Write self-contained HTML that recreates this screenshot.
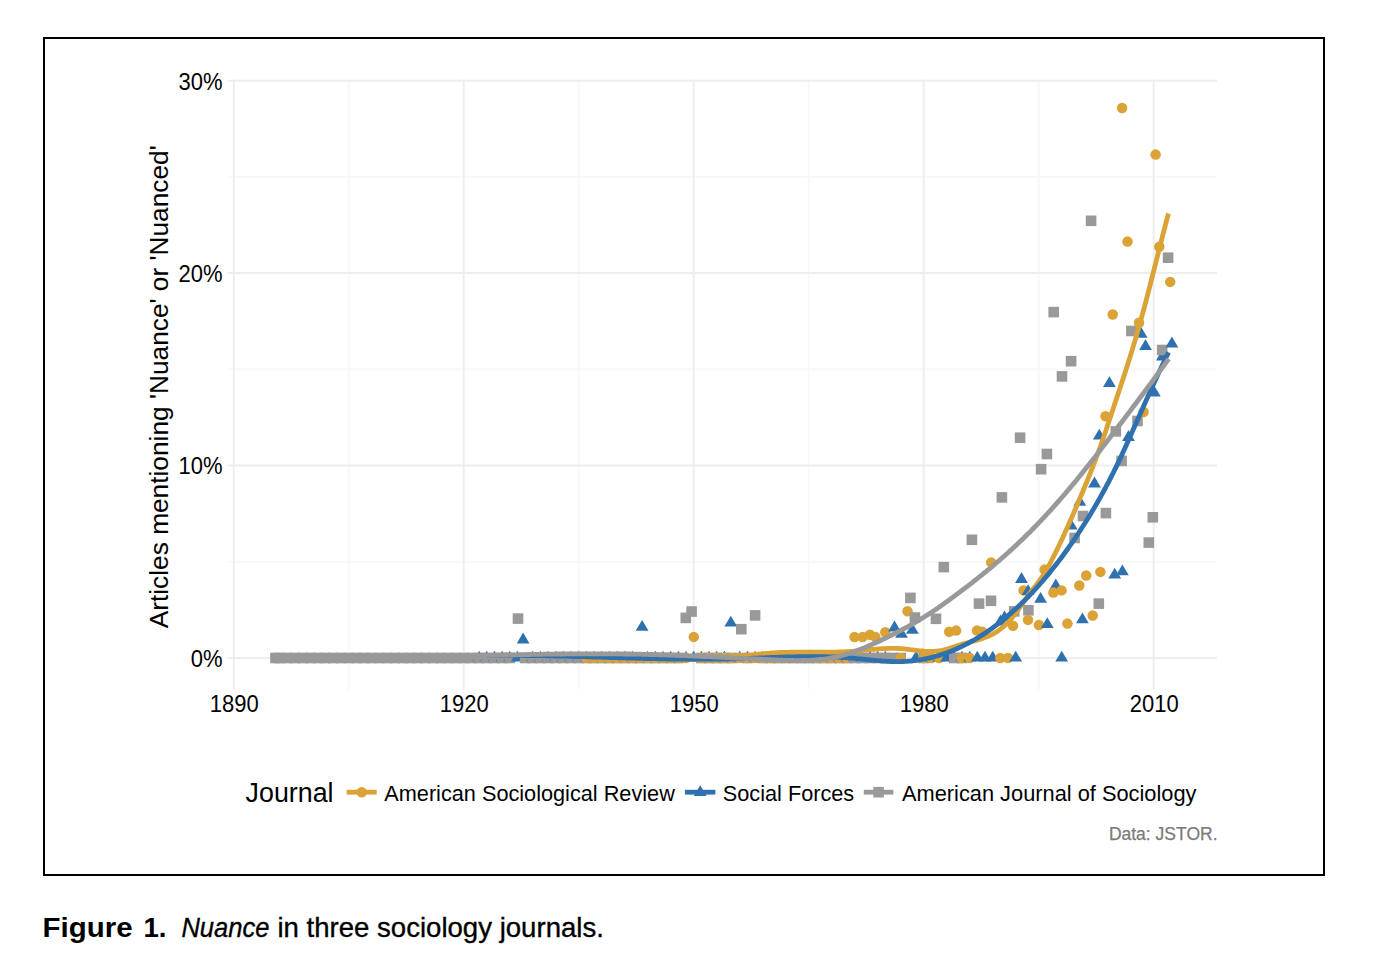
<!DOCTYPE html>
<html><head><meta charset="utf-8"><title>Figure 1. Nuance in three sociology journals</title>
<style>
html,body{margin:0;padding:0;background:#fff;}
body{width:1378px;height:974px;overflow:hidden;position:relative;font-family:"Liberation Sans",sans-serif;}
svg{position:absolute;left:0;top:0;}
.ma{stroke:#eeeeee;stroke-width:2;}
.mi{stroke:#f8f8f8;stroke-width:2;}

</style></head><body>
<svg width="1378" height="974" viewBox="0 0 1378 974" font-family="Liberation Sans, sans-serif">
<rect x="44" y="38" width="1280" height="837" fill="#fff" stroke="#000" stroke-width="2"/>
<g><line x1="348.74" y1="79.5" x2="348.74" y2="689.7" class="mi"/><line x1="578.71" y1="79.5" x2="578.71" y2="689.7" class="mi"/><line x1="808.68" y1="79.5" x2="808.68" y2="689.7" class="mi"/><line x1="1038.66" y1="79.5" x2="1038.66" y2="689.7" class="mi"/><line x1="227.5" y1="561.77" x2="1217.0" y2="561.77" class="mi"/><line x1="227.5" y1="369.32" x2="1217.0" y2="369.32" class="mi"/><line x1="227.5" y1="176.88" x2="1217.0" y2="176.88" class="mi"/><line x1="233.75" y1="79.5" x2="233.75" y2="689.7" class="ma"/><line x1="463.72" y1="79.5" x2="463.72" y2="689.7" class="ma"/><line x1="693.70" y1="79.5" x2="693.70" y2="689.7" class="ma"/><line x1="923.67" y1="79.5" x2="923.67" y2="689.7" class="ma"/><line x1="1153.65" y1="79.5" x2="1153.65" y2="689.7" class="ma"/><line x1="227.5" y1="658.00" x2="1217.0" y2="658.00" class="ma"/><line x1="227.5" y1="465.55" x2="1217.0" y2="465.55" class="ma"/><line x1="227.5" y1="273.10" x2="1217.0" y2="273.10" class="ma"/><line x1="227.5" y1="80.65" x2="1217.0" y2="80.65" class="ma"/></g>
<g fill="#999999"><rect x="270.2" y="652.7" width="10.6" height="10.6"/><rect x="274.4" y="652.7" width="10.6" height="10.6"/><rect x="282.1" y="652.7" width="10.6" height="10.6"/><rect x="289.8" y="652.7" width="10.6" height="10.6"/><rect x="297.4" y="652.7" width="10.6" height="10.6"/><rect x="305.1" y="652.7" width="10.6" height="10.6"/><rect x="312.8" y="652.7" width="10.6" height="10.6"/><rect x="320.4" y="652.7" width="10.6" height="10.6"/><rect x="328.1" y="652.7" width="10.6" height="10.6"/><rect x="335.8" y="652.7" width="10.6" height="10.6"/><rect x="343.4" y="652.7" width="10.6" height="10.6"/><rect x="351.1" y="652.7" width="10.6" height="10.6"/><rect x="358.8" y="652.7" width="10.6" height="10.6"/><rect x="366.4" y="652.7" width="10.6" height="10.6"/><rect x="374.1" y="652.7" width="10.6" height="10.6"/><rect x="381.8" y="652.7" width="10.6" height="10.6"/><rect x="389.4" y="652.7" width="10.6" height="10.6"/><rect x="397.1" y="652.7" width="10.6" height="10.6"/><rect x="404.8" y="652.7" width="10.6" height="10.6"/><rect x="412.4" y="652.7" width="10.6" height="10.6"/><rect x="420.1" y="652.7" width="10.6" height="10.6"/><rect x="427.8" y="652.7" width="10.6" height="10.6"/><rect x="435.4" y="652.7" width="10.6" height="10.6"/><rect x="443.1" y="652.7" width="10.6" height="10.6"/><rect x="450.8" y="652.7" width="10.6" height="10.6"/><rect x="458.4" y="652.7" width="10.6" height="10.6"/><rect x="466.1" y="652.7" width="10.6" height="10.6"/></g><g fill="#2F70AF"><path d="M479.1 650.8L485.5 661.6L472.7 661.6Z"/></g><g fill="#999999"><rect x="473.8" y="652.7" width="10.6" height="10.6"/></g><g fill="#2F70AF"><path d="M486.7 650.8L493.1 661.6L480.3 661.6Z"/></g><g fill="#999999"><rect x="481.4" y="652.7" width="10.6" height="10.6"/></g><g fill="#2F70AF"><path d="M494.4 650.8L500.8 661.6L488.0 661.6Z"/></g><g fill="#999999"><rect x="489.1" y="652.7" width="10.6" height="10.6"/></g><g fill="#2F70AF"><path d="M502.1 650.8L508.5 661.6L495.7 661.6Z"/></g><g fill="#999999"><rect x="496.8" y="652.7" width="10.6" height="10.6"/></g><g fill="#2F70AF"><path d="M509.7 650.8L516.1 661.6L503.3 661.6Z"/></g><g fill="#999999"><rect x="504.4" y="652.7" width="10.6" height="10.6"/></g><g fill="#2F70AF"><path d="M517.4 650.8L523.8 661.6L511.0 661.6Z"/></g><g fill="#999999"><rect x="512.7" y="613.3" width="10.6" height="10.6"/></g><g fill="#2F70AF"><path d="M523.1 632.6L529.5 643.4L516.7 643.4Z"/></g><g fill="#999999"><rect x="519.8" y="652.7" width="10.6" height="10.6"/></g><g fill="#2F70AF"><path d="M532.7 650.8L539.1 661.6L526.3 661.6Z"/></g><g fill="#999999"><rect x="527.4" y="652.7" width="10.6" height="10.6"/></g><g fill="#2F70AF"><path d="M540.4 650.8L546.8 661.6L534.0 661.6Z"/></g><g fill="#999999"><rect x="535.1" y="652.7" width="10.6" height="10.6"/></g><g fill="#2F70AF"><path d="M548.0 650.8L554.4 661.6L541.6 661.6Z"/></g><g fill="#999999"><rect x="542.7" y="652.7" width="10.6" height="10.6"/></g><g fill="#2F70AF"><path d="M555.7 650.8L562.1 661.6L549.3 661.6Z"/></g><g fill="#999999"><rect x="550.4" y="652.7" width="10.6" height="10.6"/></g><g fill="#2F70AF"><path d="M563.4 650.8L569.8 661.6L557.0 661.6Z"/></g><g fill="#999999"><rect x="558.1" y="652.7" width="10.6" height="10.6"/></g><g fill="#2F70AF"><path d="M571.0 650.8L577.4 661.6L564.6 661.6Z"/></g><g fill="#999999"><rect x="565.7" y="652.7" width="10.6" height="10.6"/></g><g fill="#2F70AF"><path d="M578.7 650.8L585.1 661.6L572.3 661.6Z"/></g><g fill="#999999"><rect x="573.4" y="652.7" width="10.6" height="10.6"/></g><g fill="#2F70AF"><path d="M586.4 650.8L592.8 661.6L580.0 661.6Z"/></g><g fill="#999999"><rect x="581.1" y="652.7" width="10.6" height="10.6"/></g><g fill="#DBA236"><circle cx="586.4" cy="658.0" r="5.25"/></g><g fill="#2F70AF"><path d="M594.0 650.8L600.4 661.6L587.6 661.6Z"/></g><g fill="#999999"><rect x="588.7" y="652.7" width="10.6" height="10.6"/></g><g fill="#DBA236"><circle cx="594.0" cy="658.0" r="5.25"/></g><g fill="#2F70AF"><path d="M601.7 650.8L608.1 661.6L595.3 661.6Z"/></g><g fill="#999999"><rect x="596.4" y="652.7" width="10.6" height="10.6"/></g><g fill="#DBA236"><circle cx="601.7" cy="658.0" r="5.25"/></g><g fill="#2F70AF"><path d="M609.4 650.8L615.8 661.6L603.0 661.6Z"/></g><g fill="#999999"><rect x="604.1" y="652.7" width="10.6" height="10.6"/></g><g fill="#DBA236"><circle cx="609.4" cy="658.0" r="5.25"/></g><g fill="#2F70AF"><path d="M617.0 650.8L623.4 661.6L610.6 661.6Z"/></g><g fill="#999999"><rect x="611.7" y="652.7" width="10.6" height="10.6"/></g><g fill="#DBA236"><circle cx="617.0" cy="658.0" r="5.25"/></g><g fill="#2F70AF"><path d="M624.7 650.8L631.1 661.6L618.3 661.6Z"/></g><g fill="#999999"><rect x="619.4" y="652.7" width="10.6" height="10.6"/></g><g fill="#DBA236"><circle cx="624.7" cy="658.0" r="5.25"/></g><g fill="#2F70AF"><path d="M632.4 650.8L638.8 661.6L626.0 661.6Z"/></g><g fill="#999999"><rect x="627.1" y="652.7" width="10.6" height="10.6"/></g><g fill="#DBA236"><circle cx="632.4" cy="658.0" r="5.25"/></g><g fill="#2F70AF"><path d="M642.1 620.0L648.5 630.8L635.7 630.8Z"/></g><g fill="#999999"><rect x="634.7" y="652.7" width="10.6" height="10.6"/></g><g fill="#DBA236"><circle cx="640.0" cy="658.0" r="5.25"/></g><g fill="#2F70AF"><path d="M647.7 650.8L654.1 661.6L641.3 661.6Z"/></g><g fill="#999999"><rect x="642.4" y="652.7" width="10.6" height="10.6"/></g><g fill="#DBA236"><circle cx="647.7" cy="658.0" r="5.25"/></g><g fill="#2F70AF"><path d="M655.4 650.8L661.8 661.6L649.0 661.6Z"/></g><g fill="#999999"><rect x="650.1" y="652.7" width="10.6" height="10.6"/></g><g fill="#DBA236"><circle cx="655.4" cy="658.0" r="5.25"/></g><g fill="#2F70AF"><path d="M663.0 650.8L669.4 661.6L656.6 661.6Z"/></g><g fill="#999999"><rect x="657.7" y="652.7" width="10.6" height="10.6"/></g><g fill="#DBA236"><circle cx="663.0" cy="658.0" r="5.25"/></g><g fill="#2F70AF"><path d="M670.7 650.8L677.1 661.6L664.3 661.6Z"/></g><g fill="#999999"><rect x="665.4" y="652.7" width="10.6" height="10.6"/></g><g fill="#DBA236"><circle cx="670.7" cy="658.0" r="5.25"/></g><g fill="#2F70AF"><path d="M678.4 650.8L684.8 661.6L672.0 661.6Z"/></g><g fill="#999999"><rect x="673.1" y="652.7" width="10.6" height="10.6"/></g><g fill="#DBA236"><circle cx="678.4" cy="658.0" r="5.25"/></g><g fill="#2F70AF"><path d="M686.0 650.8L692.4 661.6L679.6 661.6Z"/></g><g fill="#999999"><rect x="680.5" y="612.6" width="10.6" height="10.6"/></g><g fill="#DBA236"><circle cx="686.0" cy="658.0" r="5.25"/></g><g fill="#2F70AF"><path d="M693.7 650.8L700.1 661.6L687.3 661.6Z"/></g><g fill="#999999"><rect x="686.3" y="606.2" width="10.6" height="10.6"/></g><g fill="#DBA236"><circle cx="693.8" cy="636.9" r="5.25"/></g><g fill="#2F70AF"><path d="M701.4 650.8L707.8 661.6L695.0 661.6Z"/></g><g fill="#999999"><rect x="696.1" y="652.7" width="10.6" height="10.6"/></g><g fill="#DBA236"><circle cx="701.4" cy="658.0" r="5.25"/></g><g fill="#2F70AF"><path d="M709.0 650.8L715.4 661.6L702.6 661.6Z"/></g><g fill="#999999"><rect x="703.7" y="652.7" width="10.6" height="10.6"/></g><g fill="#DBA236"><circle cx="709.0" cy="658.0" r="5.25"/></g><g fill="#2F70AF"><path d="M716.7 650.8L723.1 661.6L710.3 661.6Z"/></g><g fill="#999999"><rect x="711.4" y="652.7" width="10.6" height="10.6"/></g><g fill="#DBA236"><circle cx="716.7" cy="658.0" r="5.25"/></g><g fill="#2F70AF"><path d="M724.4 650.8L730.8 661.6L718.0 661.6Z"/></g><g fill="#999999"><rect x="719.1" y="652.7" width="10.6" height="10.6"/></g><g fill="#DBA236"><circle cx="724.4" cy="658.0" r="5.25"/></g><g fill="#2F70AF"><path d="M730.8 615.8L737.2 626.6L724.4 626.6Z"/></g><g fill="#999999"><rect x="726.7" y="652.7" width="10.6" height="10.6"/></g><g fill="#DBA236"><circle cx="732.0" cy="658.0" r="5.25"/></g><g fill="#2F70AF"><path d="M739.7 650.8L746.1 661.6L733.3 661.6Z"/></g><g fill="#999999"><rect x="736.0" y="623.9" width="10.6" height="10.6"/></g><g fill="#DBA236"><circle cx="739.7" cy="658.0" r="5.25"/></g><g fill="#2F70AF"><path d="M747.4 650.8L753.8 661.6L741.0 661.6Z"/></g><g fill="#999999"><rect x="742.1" y="652.7" width="10.6" height="10.6"/></g><g fill="#DBA236"><circle cx="747.4" cy="658.0" r="5.25"/></g><g fill="#2F70AF"><path d="M755.0 650.8L761.4 661.6L748.6 661.6Z"/></g><g fill="#999999"><rect x="749.8" y="610.1" width="10.6" height="10.6"/></g><g fill="#DBA236"><circle cx="755.0" cy="658.0" r="5.25"/></g><g fill="#2F70AF"><path d="M762.7 650.8L769.1 661.6L756.3 661.6Z"/></g><g fill="#999999"><rect x="757.4" y="652.7" width="10.6" height="10.6"/></g><g fill="#DBA236"><circle cx="762.7" cy="658.0" r="5.25"/></g><g fill="#2F70AF"><path d="M770.4 650.8L776.8 661.6L764.0 661.6Z"/></g><g fill="#999999"><rect x="765.1" y="652.7" width="10.6" height="10.6"/></g><g fill="#DBA236"><circle cx="770.4" cy="658.0" r="5.25"/></g><g fill="#2F70AF"><path d="M778.0 650.8L784.4 661.6L771.6 661.6Z"/></g><g fill="#999999"><rect x="772.7" y="652.7" width="10.6" height="10.6"/></g><g fill="#DBA236"><circle cx="778.0" cy="658.0" r="5.25"/></g><g fill="#2F70AF"><path d="M785.7 650.8L792.1 661.6L779.3 661.6Z"/></g><g fill="#999999"><rect x="780.4" y="652.7" width="10.6" height="10.6"/></g><g fill="#DBA236"><circle cx="785.7" cy="658.0" r="5.25"/></g><g fill="#2F70AF"><path d="M793.4 650.8L799.8 661.6L787.0 661.6Z"/></g><g fill="#999999"><rect x="788.1" y="652.7" width="10.6" height="10.6"/></g><g fill="#DBA236"><circle cx="793.4" cy="658.0" r="5.25"/></g><g fill="#2F70AF"><path d="M801.0 650.8L807.4 661.6L794.6 661.6Z"/></g><g fill="#999999"><rect x="795.7" y="652.7" width="10.6" height="10.6"/></g><g fill="#DBA236"><circle cx="801.0" cy="658.0" r="5.25"/></g><g fill="#2F70AF"><path d="M808.7 650.8L815.1 661.6L802.3 661.6Z"/></g><g fill="#999999"><rect x="803.4" y="652.7" width="10.6" height="10.6"/></g><g fill="#DBA236"><circle cx="808.7" cy="658.0" r="5.25"/></g><g fill="#2F70AF"><path d="M816.4 650.8L822.8 661.6L810.0 661.6Z"/></g><g fill="#999999"><rect x="811.1" y="652.7" width="10.6" height="10.6"/></g><g fill="#DBA236"><circle cx="816.4" cy="658.0" r="5.25"/></g><g fill="#2F70AF"><path d="M824.0 650.8L830.4 661.6L817.6 661.6Z"/></g><g fill="#999999"><rect x="818.7" y="652.7" width="10.6" height="10.6"/></g><g fill="#DBA236"><circle cx="824.0" cy="658.0" r="5.25"/></g><g fill="#2F70AF"><path d="M831.7 650.8L838.1 661.6L825.3 661.6Z"/></g><g fill="#999999"><rect x="826.4" y="652.7" width="10.6" height="10.6"/></g><g fill="#DBA236"><circle cx="831.7" cy="658.0" r="5.25"/></g><g fill="#2F70AF"><path d="M839.3 650.8L845.7 661.6L832.9 661.6Z"/></g><g fill="#999999"><rect x="834.0" y="652.7" width="10.6" height="10.6"/></g><g fill="#DBA236"><circle cx="839.3" cy="658.0" r="5.25"/></g><g fill="#2F70AF"><path d="M847.0 650.8L853.4 661.6L840.6 661.6Z"/></g><g fill="#999999"><rect x="841.7" y="652.7" width="10.6" height="10.6"/></g><g fill="#DBA236"><circle cx="847.0" cy="658.0" r="5.25"/></g><g fill="#2F70AF"><path d="M854.7 650.8L861.1 661.6L848.3 661.6Z"/></g><g fill="#999999"><rect x="849.4" y="652.7" width="10.6" height="10.6"/></g><g fill="#DBA236"><circle cx="854.5" cy="637.1" r="5.25"/></g><g fill="#2F70AF"><path d="M862.3 650.8L868.7 661.6L855.9 661.6Z"/></g><g fill="#999999"><rect x="857.0" y="652.7" width="10.6" height="10.6"/></g><g fill="#DBA236"><circle cx="862.5" cy="637.1" r="5.25"/></g><g fill="#2F70AF"><path d="M870.0 650.8L876.4 661.6L863.6 661.6Z"/></g><g fill="#999999"><rect x="864.7" y="652.7" width="10.6" height="10.6"/></g><g fill="#DBA236"><circle cx="869.9" cy="634.7" r="5.25"/></g><g fill="#2F70AF"><path d="M877.7 650.8L884.1 661.6L871.3 661.6Z"/></g><g fill="#999999"><rect x="872.4" y="652.7" width="10.6" height="10.6"/></g><g fill="#DBA236"><circle cx="875.5" cy="637.1" r="5.25"/></g><g fill="#2F70AF"><path d="M885.3 650.8L891.7 661.6L878.9 661.6Z"/></g><g fill="#999999"><rect x="880.0" y="652.7" width="10.6" height="10.6"/></g><g fill="#DBA236"><circle cx="885.3" cy="632.2" r="5.25"/></g><g fill="#2F70AF"><path d="M894.5 620.6L900.9 631.4L888.1 631.4Z"/></g><g fill="#999999"><rect x="887.7" y="652.7" width="10.6" height="10.6"/></g><g fill="#2F70AF"><path d="M901.5 626.9L907.9 637.7L895.1 637.7Z"/></g><g fill="#999999"><rect x="895.4" y="652.7" width="10.6" height="10.6"/></g><g fill="#DBA236"><circle cx="900.7" cy="658.0" r="5.25"/></g><g fill="#999999"><rect x="905.1" y="592.6" width="10.6" height="10.6"/></g><g fill="#DBA236"><circle cx="907.5" cy="611.2" r="5.25"/></g><g fill="#2F70AF"><path d="M916.0 650.8L922.4 661.6L909.6 661.6Z"/><path d="M912.4 622.9L918.8 633.7L906.0 633.7Z"/></g><g fill="#999999"><rect x="909.6" y="612.2" width="10.6" height="10.6"/></g><g fill="#2F70AF"><path d="M923.7 650.8L930.1 661.6L917.3 661.6Z"/></g><g fill="#999999"><rect x="918.4" y="652.7" width="10.6" height="10.6"/></g><g fill="#DBA236"><circle cx="923.7" cy="658.0" r="5.25"/></g><g fill="#2F70AF"><path d="M931.3 650.8L937.7 661.6L924.9 661.6Z"/></g><g fill="#DBA236"><circle cx="931.3" cy="658.0" r="5.25"/></g><g fill="#2F70AF"><path d="M939.0 650.8L945.4 661.6L932.6 661.6Z"/></g><g fill="#999999"><rect x="930.7" y="613.5" width="10.6" height="10.6"/></g><g fill="#DBA236"><circle cx="939.0" cy="658.0" r="5.25"/></g><g fill="#2F70AF"><path d="M946.7 650.8L953.1 661.6L940.3 661.6Z"/></g><g fill="#999999"><rect x="938.5" y="561.8" width="10.6" height="10.6"/></g><g fill="#DBA236"><circle cx="949.2" cy="631.8" r="5.25"/></g><g fill="#2F70AF"><path d="M954.3 650.8L960.7 661.6L947.9 661.6Z"/></g><g fill="#999999"><rect x="949.0" y="652.7" width="10.6" height="10.6"/></g><g fill="#DBA236"><circle cx="956.1" cy="630.6" r="5.25"/></g><g fill="#2F70AF"><path d="M962.0 650.8L968.4 661.6L955.6 661.6Z"/></g><g fill="#999999"><rect x="956.7" y="652.7" width="10.6" height="10.6"/></g><g fill="#DBA236"><circle cx="962.0" cy="658.0" r="5.25"/></g><g fill="#2F70AF"><path d="M969.7 650.8L976.1 661.6L963.3 661.6Z"/></g><g fill="#999999"><rect x="966.6" y="534.5" width="10.6" height="10.6"/></g><g fill="#DBA236"><circle cx="969.7" cy="658.0" r="5.25"/></g><g fill="#2F70AF"><path d="M977.3 650.8L983.7 661.6L970.9 661.6Z"/></g><g fill="#999999"><rect x="973.7" y="598.3" width="10.6" height="10.6"/></g><g fill="#DBA236"><circle cx="977.0" cy="630.6" r="5.25"/></g><g fill="#2F70AF"><path d="M985.0 650.8L991.4 661.6L978.6 661.6Z"/></g><g fill="#DBA236"><circle cx="982.3" cy="631.8" r="5.25"/></g><g fill="#2F70AF"><path d="M992.7 650.8L999.1 661.6L986.3 661.6Z"/></g><g fill="#999999"><rect x="985.7" y="595.5" width="10.6" height="10.6"/></g><g fill="#DBA236"><circle cx="991.2" cy="562.4" r="5.25"/></g><g fill="#2F70AF"><path d="M1000.5 614.6L1006.9 625.4L994.1 625.4Z"/></g><g fill="#999999"><rect x="996.6" y="492.1" width="10.6" height="10.6"/></g><g fill="#DBA236"><circle cx="1000.3" cy="658.0" r="5.25"/></g><g fill="#2F70AF"><path d="M1004.5 610.6L1010.9 621.4L998.1 621.4Z"/></g><g fill="#DBA236"><circle cx="1008.0" cy="658.0" r="5.25"/></g><g fill="#2F70AF"><path d="M1015.7 650.8L1022.1 661.6L1009.3 661.6Z"/></g><g fill="#999999"><rect x="1008.9" y="606.1" width="10.6" height="10.6"/></g><g fill="#DBA236"><circle cx="1013.0" cy="625.7" r="5.25"/></g><g fill="#2F70AF"><path d="M1021.5 572.1L1027.9 582.9L1015.1 582.9Z"/></g><g fill="#999999"><rect x="1014.8" y="432.4" width="10.6" height="10.6"/></g><g fill="#DBA236"><circle cx="1023.6" cy="590.4" r="5.25"/></g><g fill="#2F70AF"><path d="M1028.1 584.2L1034.5 595.0L1021.7 595.0Z"/></g><g fill="#999999"><rect x="1023.1" y="605.0" width="10.6" height="10.6"/></g><g fill="#DBA236"><circle cx="1028.0" cy="619.9" r="5.25"/></g><g fill="#2F70AF"><path d="M1040.6 592.0L1047.0 602.8L1034.2 602.8Z"/></g><g fill="#999999"><rect x="1035.8" y="463.9" width="10.6" height="10.6"/></g><g fill="#DBA236"><circle cx="1038.9" cy="625.0" r="5.25"/></g><g fill="#2F70AF"><path d="M1047.3 617.2L1053.7 628.0L1040.9 628.0Z"/></g><g fill="#999999"><rect x="1041.6" y="448.7" width="10.6" height="10.6"/></g><g fill="#DBA236"><circle cx="1044.6" cy="569.6" r="5.25"/></g><g fill="#2F70AF"><path d="M1055.8 578.6L1062.2 589.4L1049.4 589.4Z"/></g><g fill="#999999"><rect x="1048.4" y="306.8" width="10.6" height="10.6"/></g><g fill="#DBA236"><circle cx="1053.4" cy="592.6" r="5.25"/></g><g fill="#2F70AF"><path d="M1061.7 650.8L1068.1 661.6L1055.3 661.6Z"/></g><g fill="#999999"><rect x="1056.7" y="371.1" width="10.6" height="10.6"/></g><g fill="#DBA236"><circle cx="1061.6" cy="590.4" r="5.25"/></g><g fill="#2F70AF"><path d="M1071.2 518.8L1077.6 529.6L1064.8 529.6Z"/></g><g fill="#999999"><rect x="1065.8" y="355.9" width="10.6" height="10.6"/></g><g fill="#DBA236"><circle cx="1067.4" cy="623.6" r="5.25"/></g><g fill="#2F70AF"><path d="M1079.8 494.9L1086.2 505.7L1073.4 505.7Z"/></g><g fill="#999999"><rect x="1069.3" y="532.7" width="10.6" height="10.6"/></g><g fill="#DBA236"><circle cx="1079.3" cy="585.5" r="5.25"/></g><g fill="#2F70AF"><path d="M1082.4 612.4L1088.8 623.2L1076.0 623.2Z"/></g><g fill="#999999"><rect x="1077.7" y="510.7" width="10.6" height="10.6"/></g><g fill="#DBA236"><circle cx="1086.2" cy="575.5" r="5.25"/></g><g fill="#2F70AF"><path d="M1094.5 476.6L1100.9 487.4L1088.1 487.4Z"/></g><g fill="#999999"><rect x="1085.8" y="215.5" width="10.6" height="10.6"/></g><g fill="#DBA236"><circle cx="1092.7" cy="615.5" r="5.25"/></g><g fill="#2F70AF"><path d="M1099.3 428.8L1105.7 439.6L1092.9 439.6Z"/></g><g fill="#999999"><rect x="1093.5" y="598.3" width="10.6" height="10.6"/></g><g fill="#DBA236"><circle cx="1100.4" cy="571.9" r="5.25"/></g><g fill="#2F70AF"><path d="M1109.4 376.2L1115.8 387.0L1103.0 387.0Z"/></g><g fill="#999999"><rect x="1100.6" y="507.8" width="10.6" height="10.6"/></g><g fill="#DBA236"><circle cx="1105.5" cy="416.2" r="5.25"/></g><g fill="#2F70AF"><path d="M1114.7 567.7L1121.1 578.5L1108.3 578.5Z"/></g><g fill="#999999"><rect x="1110.5" y="426.1" width="10.6" height="10.6"/></g><g fill="#DBA236"><circle cx="1112.7" cy="314.5" r="5.25"/></g><g fill="#2F70AF"><path d="M1122.4 564.4L1128.8 575.2L1116.0 575.2Z"/></g><g fill="#999999"><rect x="1116.3" y="455.6" width="10.6" height="10.6"/></g><g fill="#DBA236"><circle cx="1122.1" cy="108.0" r="5.25"/></g><g fill="#2F70AF"><path d="M1128.5 430.1L1134.9 440.9L1122.1 440.9Z"/></g><g fill="#999999"><rect x="1126.1" y="325.7" width="10.6" height="10.6"/></g><g fill="#DBA236"><circle cx="1127.5" cy="241.6" r="5.25"/></g><g fill="#2F70AF"><path d="M1141.2 327.0L1147.6 337.8L1134.8 337.8Z"/></g><g fill="#999999"><rect x="1132.2" y="415.7" width="10.6" height="10.6"/></g><g fill="#DBA236"><circle cx="1139.0" cy="322.7" r="5.25"/></g><g fill="#2F70AF"><path d="M1145.5 339.3L1151.9 350.1L1139.1 350.1Z"/></g><g fill="#999999"><rect x="1143.5" y="537.3" width="10.6" height="10.6"/></g><g fill="#DBA236"><circle cx="1143.6" cy="412.0" r="5.25"/></g><g fill="#2F70AF"><path d="M1154.3 385.7L1160.7 396.5L1147.9 396.5Z"/></g><g fill="#999999"><rect x="1147.5" y="512.0" width="10.6" height="10.6"/></g><g fill="#DBA236"><circle cx="1155.6" cy="154.6" r="5.25"/></g><g fill="#2F70AF"><path d="M1162.4 349.6L1168.8 360.4L1156.0 360.4Z"/></g><g fill="#999999"><rect x="1156.9" y="344.7" width="10.6" height="10.6"/></g><g fill="#DBA236"><circle cx="1159.3" cy="246.8" r="5.25"/></g><g fill="#2F70AF"><path d="M1171.9 336.6L1178.3 347.4L1165.5 347.4Z"/></g><g fill="#999999"><rect x="1162.8" y="252.4" width="10.6" height="10.6"/></g><g fill="#DBA236"><circle cx="1170.2" cy="281.9" r="5.25"/></g>
<g fill="none" stroke-linecap="butt" stroke-linejoin="round" stroke-width="4.8">
<path d="M586.3 659.5 L588.3 659.4 L590.3 659.4 L592.3 659.3 L594.3 659.3 L596.3 659.2 L598.3 659.2 L600.3 659.2 L602.3 659.2 L604.3 659.1 L606.3 659.1 L608.3 659.1 L610.3 659.1 L612.3 659.1 L614.3 659.1 L616.3 659.1 L618.3 659.1 L620.3 659.2 L622.3 659.2 L624.3 659.2 L626.3 659.2 L628.3 659.2 L630.3 659.3 L632.3 659.3 L634.3 659.3 L636.3 659.3 L638.3 659.4 L640.3 659.4 L642.3 659.4 L644.3 659.5 L646.3 659.5 L648.3 659.5 L650.3 659.6 L652.3 659.6 L654.3 659.6 L656.3 659.6 L658.3 659.7 L660.3 659.7 L662.3 659.7 L664.3 659.7 L666.3 659.7 L668.3 659.7 L670.3 659.7 L672.3 659.7 L674.3 659.8 L676.3 659.7 L678.3 659.7 L680.3 659.7 L682.3 659.7 L684.3 659.7 L686.3 659.7 L688.3 659.6 L690.3 659.6 L692.3 659.6 L694.3 659.5 L696.3 659.5 L698.3 659.4 L700.3 659.3 L702.3 659.2 L704.3 659.2 L706.3 659.1 L708.3 659.0 L710.3 658.9 L712.3 658.8 L714.3 658.6 L716.3 658.5 L718.3 658.4 L720.3 658.2 L722.3 658.1 L724.3 657.9 L726.3 657.7 L728.3 657.5 L730.3 657.3 L732.3 657.1 L734.3 656.9 L736.3 656.7 L738.3 656.5 L740.3 656.3 L742.3 656.0 L744.3 655.8 L746.3 655.6 L748.3 655.3 L750.3 655.1 L752.3 654.9 L754.3 654.7 L756.3 654.5 L758.3 654.2 L760.3 654.0 L762.3 653.8 L764.3 653.7 L766.3 653.5 L768.3 653.3 L770.3 653.1 L772.3 653.0 L774.3 652.9 L776.3 652.7 L778.3 652.6 L780.3 652.5 L782.3 652.5 L784.3 652.4 L786.3 652.3 L788.3 652.3 L790.3 652.2 L792.3 652.2 L794.3 652.2 L796.3 652.2 L798.3 652.2 L800.3 652.2 L802.3 652.2 L804.3 652.2 L806.3 652.2 L808.3 652.2 L810.3 652.2 L812.3 652.2 L814.3 652.2 L816.3 652.2 L818.3 652.2 L820.3 652.2 L822.3 652.2 L824.3 652.2 L826.3 652.2 L828.3 652.2 L830.3 652.2 L832.3 652.1 L834.3 652.1 L836.3 652.1 L838.3 652.0 L840.3 651.9 L842.3 651.9 L844.3 651.8 L846.3 651.7 L848.3 651.6 L850.3 651.4 L852.3 651.3 L854.3 651.1 L856.3 651.0 L858.3 650.8 L860.3 650.6 L862.3 650.4 L864.3 650.2 L866.3 650.0 L868.3 649.8 L870.3 649.6 L872.3 649.4 L874.3 649.3 L876.3 649.1 L878.3 648.9 L880.3 648.8 L882.3 648.7 L884.3 648.6 L886.3 648.5 L888.3 648.4 L890.3 648.4 L892.3 648.3 L894.3 648.3 L896.3 648.4 L898.3 648.5 L900.3 648.6 L902.3 648.7 L904.3 648.9 L906.3 649.1 L908.3 649.3 L910.3 649.6 L912.3 649.8 L914.3 650.1 L916.3 650.3 L918.3 650.6 L920.3 650.8 L922.3 651.0 L924.3 651.2 L926.3 651.3 L928.3 651.4 L930.3 651.5 L932.3 651.5 L934.3 651.4 L936.3 651.2 L938.3 651.0 L940.3 650.7 L942.3 650.4 L944.3 649.9 L946.3 649.3 L948.3 648.7 L950.3 648.1 L952.3 647.4 L954.3 646.7 L956.3 646.0 L958.3 645.4 L960.3 644.7 L962.3 644.1 L964.3 643.6 L966.3 643.0 L968.3 642.5 L970.3 642.0 L972.3 641.5 L974.3 640.9 L976.3 640.4 L978.3 639.8 L980.3 639.2 L982.3 638.5 L984.3 637.8 L986.3 637.1 L988.3 636.2 L990.3 635.3 L992.3 634.3 L994.3 633.2 L996.3 632.0 L998.3 630.7 L1000.3 629.2 L1002.3 627.7 L1004.3 625.9 L1006.3 624.1 L1008.3 622.1 L1010.3 619.9 L1012.3 617.5 L1014.3 615.0 L1016.3 612.3 L1018.3 609.6 L1020.3 606.7 L1022.3 603.9 L1024.3 601.0 L1026.3 598.1 L1028.3 595.3 L1030.3 592.6 L1032.3 590.0 L1034.3 587.4 L1036.3 584.9 L1038.3 582.3 L1040.3 579.5 L1042.3 576.6 L1044.3 573.4 L1046.3 570.0 L1048.3 566.5 L1050.3 562.8 L1052.3 559.0 L1054.3 555.1 L1056.3 551.1 L1058.3 547.0 L1060.3 542.8 L1062.3 538.5 L1064.3 534.2 L1066.3 529.8 L1068.3 525.3 L1070.3 520.7 L1072.3 516.2 L1074.3 511.5 L1076.3 506.9 L1078.3 502.2 L1080.3 497.4 L1082.3 492.7 L1084.3 487.9 L1086.3 483.0 L1088.3 478.1 L1090.3 473.1 L1092.3 468.0 L1094.3 462.9 L1096.3 457.6 L1098.3 452.2 L1100.3 446.7 L1102.3 441.0 L1104.3 435.2 L1106.3 429.3 L1108.3 423.3 L1110.3 417.3 L1112.3 411.3 L1114.3 405.3 L1116.3 399.2 L1118.3 393.2 L1120.3 387.2 L1122.3 381.1 L1124.3 374.9 L1126.3 368.7 L1128.3 362.4 L1130.3 356.1 L1132.3 349.6 L1134.3 342.9 L1136.3 336.2 L1138.3 329.2 L1140.3 322.1 L1142.3 314.9 L1144.3 307.4 L1146.3 299.8 L1148.3 292.1 L1150.3 284.3 L1152.3 276.4 L1154.3 268.5 L1156.3 260.6 L1158.3 252.7 L1160.3 244.8 L1162.3 237.0 L1164.3 229.3 L1166.3 221.7 L1168.3 214.2 L1168.5 213.5" stroke="#DBA236"/>
<path d="M478.9 655.6 L480.9 655.6 L482.9 655.6 L484.9 655.5 L486.9 655.5 L488.9 655.5 L490.9 655.4 L492.9 655.4 L494.9 655.4 L496.9 655.4 L498.9 655.4 L500.9 655.4 L502.9 655.4 L504.9 655.4 L506.9 655.4 L508.9 655.4 L510.9 655.4 L512.9 655.4 L514.9 655.4 L516.9 655.4 L518.9 655.4 L520.9 655.4 L522.9 655.4 L524.9 655.5 L526.9 655.5 L528.9 655.5 L530.9 655.5 L532.9 655.5 L534.9 655.6 L536.9 655.6 L538.9 655.6 L540.9 655.7 L542.9 655.7 L544.9 655.7 L546.9 655.8 L548.9 655.8 L550.9 655.9 L552.9 655.9 L554.9 656.0 L556.9 656.0 L558.9 656.0 L560.9 656.1 L562.9 656.1 L564.9 656.2 L566.9 656.2 L568.9 656.3 L570.9 656.3 L572.9 656.4 L574.9 656.5 L576.9 656.5 L578.9 656.6 L580.9 656.6 L582.9 656.7 L584.9 656.7 L586.9 656.8 L588.9 656.9 L590.9 656.9 L592.9 657.0 L594.9 657.0 L596.9 657.1 L598.9 657.2 L600.9 657.2 L602.9 657.3 L604.9 657.3 L606.9 657.4 L608.9 657.5 L610.9 657.5 L612.9 657.6 L614.9 657.6 L616.9 657.7 L618.9 657.8 L620.9 657.8 L622.9 657.9 L624.9 657.9 L626.9 658.0 L628.9 658.0 L630.9 658.1 L632.9 658.2 L634.9 658.2 L636.9 658.3 L638.9 658.3 L640.9 658.4 L642.9 658.4 L644.9 658.5 L646.9 658.5 L648.9 658.6 L650.9 658.6 L652.9 658.7 L654.9 658.7 L656.9 658.7 L658.9 658.8 L660.9 658.8 L662.9 658.9 L664.9 658.9 L666.9 658.9 L668.9 659.0 L670.9 659.0 L672.9 659.0 L674.9 659.1 L676.9 659.1 L678.9 659.1 L680.9 659.1 L682.9 659.1 L684.9 659.2 L686.9 659.2 L688.9 659.2 L690.9 659.2 L692.9 659.2 L694.9 659.2 L696.9 659.2 L698.9 659.2 L700.9 659.2 L702.9 659.2 L704.9 659.2 L706.9 659.2 L708.9 659.2 L710.9 659.2 L712.9 659.2 L714.9 659.2 L716.9 659.1 L718.9 659.1 L720.9 659.1 L722.9 659.0 L724.9 659.0 L726.9 659.0 L728.9 658.9 L730.9 658.9 L732.9 658.8 L734.9 658.8 L736.9 658.7 L738.9 658.7 L740.9 658.6 L742.9 658.6 L744.9 658.5 L746.9 658.4 L748.9 658.3 L750.9 658.3 L752.9 658.2 L754.9 658.1 L756.9 658.1 L758.9 658.0 L760.9 657.9 L762.9 657.8 L764.9 657.8 L766.9 657.7 L768.9 657.6 L770.9 657.5 L772.9 657.4 L774.9 657.4 L776.9 657.3 L778.9 657.2 L780.9 657.2 L782.9 657.1 L784.9 657.0 L786.9 657.0 L788.9 656.9 L790.9 656.9 L792.9 656.8 L794.9 656.8 L796.9 656.7 L798.9 656.7 L800.9 656.7 L802.9 656.6 L804.9 656.6 L806.9 656.6 L808.9 656.6 L810.9 656.6 L812.9 656.6 L814.9 656.6 L816.9 656.6 L818.9 656.6 L820.9 656.6 L822.9 656.7 L824.9 656.7 L826.9 656.8 L828.9 656.8 L830.9 656.9 L832.9 657.0 L834.9 657.0 L836.9 657.1 L838.9 657.2 L840.9 657.4 L842.9 657.5 L844.9 657.6 L846.9 657.7 L848.9 657.9 L850.9 658.1 L852.9 658.2 L854.9 658.4 L856.9 658.6 L858.9 658.8 L860.9 659.0 L862.9 659.2 L864.9 659.4 L866.9 659.6 L868.9 659.8 L870.9 660.0 L872.9 660.2 L874.9 660.4 L876.9 660.6 L878.9 660.7 L880.9 660.9 L882.9 661.1 L884.9 661.2 L886.9 661.3 L888.9 661.4 L890.9 661.5 L892.9 661.6 L894.9 661.6 L896.9 661.6 L898.9 661.6 L900.9 661.6 L902.9 661.5 L904.9 661.4 L906.9 661.3 L908.9 661.1 L910.9 661.0 L912.9 660.8 L914.9 660.5 L916.9 660.3 L918.9 660.0 L920.9 659.6 L922.9 659.3 L924.9 658.9 L926.9 658.5 L928.9 658.1 L930.9 657.6 L932.9 657.1 L934.9 656.5 L936.9 656.0 L938.9 655.4 L940.9 654.8 L942.9 654.1 L944.9 653.4 L946.9 652.7 L948.9 652.0 L950.9 651.2 L952.9 650.4 L954.9 649.6 L956.9 648.7 L958.9 647.8 L960.9 646.9 L962.9 645.9 L964.9 644.9 L966.9 643.9 L968.9 642.8 L970.9 641.7 L972.9 640.6 L974.9 639.5 L976.9 638.3 L978.9 637.1 L980.9 635.8 L982.9 634.6 L984.9 633.2 L986.9 631.9 L988.9 630.5 L990.9 629.1 L992.9 627.7 L994.9 626.2 L996.9 624.7 L998.9 623.1 L1000.9 621.6 L1002.9 620.0 L1004.9 618.3 L1006.9 616.6 L1008.9 614.9 L1010.9 613.2 L1012.9 611.4 L1014.9 609.6 L1016.9 607.8 L1018.9 605.9 L1020.9 604.0 L1022.9 602.1 L1024.9 600.1 L1026.9 598.1 L1028.9 596.0 L1030.9 593.9 L1032.9 591.8 L1034.9 589.7 L1036.9 587.5 L1038.9 585.2 L1040.9 583.0 L1042.9 580.7 L1044.9 578.3 L1046.9 576.0 L1048.9 573.6 L1050.9 571.1 L1052.9 568.6 L1054.9 566.1 L1056.9 563.5 L1058.9 560.9 L1060.9 558.2 L1062.9 555.5 L1064.9 552.8 L1066.9 550.0 L1068.9 547.2 L1070.9 544.4 L1072.9 541.5 L1074.9 538.5 L1076.9 535.5 L1078.9 532.5 L1080.9 529.4 L1082.9 526.3 L1084.9 523.2 L1086.9 520.0 L1088.9 516.7 L1090.9 513.4 L1092.9 510.1 L1094.9 506.7 L1096.9 503.2 L1098.9 499.7 L1100.9 496.2 L1102.9 492.5 L1104.9 488.8 L1106.9 485.1 L1108.9 481.3 L1110.9 477.4 L1112.9 473.5 L1114.9 469.4 L1116.9 465.4 L1118.9 461.2 L1120.9 456.9 L1122.9 452.6 L1124.9 448.3 L1126.9 443.8 L1128.9 439.4 L1130.9 434.9 L1132.9 430.3 L1134.9 425.8 L1136.9 421.2 L1138.9 416.7 L1140.9 412.2 L1142.9 407.7 L1144.9 403.2 L1146.9 398.7 L1148.9 394.2 L1150.9 389.8 L1152.9 385.4 L1154.9 381.1 L1156.9 376.7 L1158.9 372.5 L1160.9 368.2 L1162.9 364.0 L1164.9 359.9 L1166.9 355.8 L1168.6 352.4" stroke="#2F70AF"/>
<path d="M272.0 657.3 L274.0 657.4 L276.0 657.4 L278.0 657.5 L280.0 657.5 L282.0 657.6 L284.0 657.7 L286.0 657.7 L288.0 657.7 L290.0 657.8 L292.0 657.8 L294.0 657.9 L296.0 657.9 L298.0 657.9 L300.0 658.0 L302.0 658.0 L304.0 658.0 L306.0 658.1 L308.0 658.1 L310.0 658.1 L312.0 658.1 L314.0 658.2 L316.0 658.2 L318.0 658.2 L320.0 658.2 L322.0 658.2 L324.0 658.2 L326.0 658.2 L328.0 658.2 L330.0 658.3 L332.0 658.3 L334.0 658.3 L336.0 658.3 L338.0 658.3 L340.0 658.3 L342.0 658.3 L344.0 658.2 L346.0 658.2 L348.0 658.2 L350.0 658.2 L352.0 658.2 L354.0 658.2 L356.0 658.2 L358.0 658.2 L360.0 658.2 L362.0 658.1 L364.0 658.1 L366.0 658.1 L368.0 658.1 L370.0 658.0 L372.0 658.0 L374.0 658.0 L376.0 658.0 L378.0 657.9 L380.0 657.9 L382.0 657.9 L384.0 657.9 L386.0 657.8 L388.0 657.8 L390.0 657.8 L392.0 657.7 L394.0 657.7 L396.0 657.6 L398.0 657.6 L400.0 657.6 L402.0 657.5 L404.0 657.5 L406.0 657.5 L408.0 657.4 L410.0 657.4 L412.0 657.3 L414.0 657.3 L416.0 657.2 L418.0 657.2 L420.0 657.1 L422.0 657.1 L424.0 657.1 L426.0 657.0 L428.0 657.0 L430.0 656.9 L432.0 656.9 L434.0 656.8 L436.0 656.8 L438.0 656.7 L440.0 656.7 L442.0 656.6 L444.0 656.6 L446.0 656.5 L448.0 656.5 L450.0 656.4 L452.0 656.4 L454.0 656.3 L456.0 656.3 L458.0 656.2 L460.0 656.2 L462.0 656.1 L464.0 656.1 L466.0 656.0 L468.0 655.9 L470.0 655.9 L472.0 655.8 L474.0 655.8 L476.0 655.7 L478.0 655.7 L480.0 655.6 L482.0 655.6 L484.0 655.5 L486.0 655.5 L488.0 655.4 L490.0 655.4 L492.0 655.3 L494.0 655.3 L496.0 655.2 L498.0 655.2 L500.0 655.1 L502.0 655.1 L504.0 655.0 L506.0 655.0 L508.0 655.0 L510.0 654.9 L512.0 654.9 L514.0 654.8 L516.0 654.8 L518.0 654.7 L520.0 654.7 L522.0 654.6 L524.0 654.6 L526.0 654.6 L528.0 654.5 L530.0 654.5 L532.0 654.4 L534.0 654.4 L536.0 654.4 L538.0 654.3 L540.0 654.3 L542.0 654.3 L544.0 654.2 L546.0 654.2 L548.0 654.2 L550.0 654.1 L552.0 654.1 L554.0 654.1 L556.0 654.0 L558.0 654.0 L560.0 654.0 L562.0 654.0 L564.0 654.0 L566.0 653.9 L568.0 653.9 L570.0 653.9 L572.0 653.9 L574.0 653.9 L576.0 653.8 L578.0 653.8 L580.0 653.8 L582.0 653.8 L584.0 653.8 L586.0 653.8 L588.0 653.8 L590.0 653.8 L592.0 653.8 L594.0 653.8 L596.0 653.8 L598.0 653.8 L600.0 653.8 L602.0 653.8 L604.0 653.8 L606.0 653.8 L608.0 653.8 L610.0 653.8 L612.0 653.8 L614.0 653.9 L616.0 653.9 L618.0 653.9 L620.0 653.9 L622.0 653.9 L624.0 654.0 L626.0 654.0 L628.0 654.0 L630.0 654.0 L632.0 654.1 L634.0 654.1 L636.0 654.1 L638.0 654.2 L640.0 654.2 L642.0 654.3 L644.0 654.3 L646.0 654.4 L648.0 654.4 L650.0 654.5 L652.0 654.5 L654.0 654.6 L656.0 654.6 L658.0 654.7 L660.0 654.8 L662.0 654.8 L664.0 654.9 L666.0 654.9 L668.0 655.0 L670.0 655.1 L672.0 655.2 L674.0 655.2 L676.0 655.3 L678.0 655.4 L680.0 655.5 L682.0 655.5 L684.0 655.6 L686.0 655.7 L688.0 655.8 L690.0 655.9 L692.0 655.9 L694.0 656.0 L696.0 656.1 L698.0 656.2 L700.0 656.3 L702.0 656.4 L704.0 656.5 L706.0 656.6 L708.0 656.7 L710.0 656.7 L712.0 656.8 L714.0 656.9 L716.0 657.0 L718.0 657.1 L720.0 657.2 L722.0 657.3 L724.0 657.4 L726.0 657.5 L728.0 657.6 L730.0 657.7 L732.0 657.8 L734.0 657.9 L736.0 658.0 L738.0 658.1 L740.0 658.2 L742.0 658.3 L744.0 658.4 L746.0 658.5 L748.0 658.6 L750.0 658.7 L752.0 658.8 L754.0 658.9 L756.0 659.0 L758.0 659.1 L760.0 659.2 L762.0 659.3 L764.0 659.4 L766.0 659.5 L768.0 659.6 L770.0 659.7 L772.0 659.8 L774.0 659.9 L776.0 660.0 L778.0 660.1 L780.0 660.1 L782.0 660.2 L784.0 660.3 L786.0 660.4 L788.0 660.4 L790.0 660.5 L792.0 660.5 L794.0 660.6 L796.0 660.6 L798.0 660.6 L800.0 660.6 L802.0 660.5 L804.0 660.5 L806.0 660.5 L808.0 660.4 L810.0 660.3 L812.0 660.2 L814.0 660.1 L816.0 659.9 L818.0 659.7 L820.0 659.5 L822.0 659.3 L824.0 659.1 L826.0 658.8 L828.0 658.5 L830.0 658.2 L832.0 657.8 L834.0 657.4 L836.0 657.0 L838.0 656.5 L840.0 656.1 L842.0 655.5 L844.0 655.0 L846.0 654.4 L848.0 653.8 L850.0 653.2 L852.0 652.5 L854.0 651.8 L856.0 651.0 L858.0 650.3 L860.0 649.5 L862.0 648.7 L864.0 647.9 L866.0 647.1 L868.0 646.2 L870.0 645.3 L872.0 644.4 L874.0 643.5 L876.0 642.6 L878.0 641.7 L880.0 640.8 L882.0 639.8 L884.0 638.9 L886.0 637.9 L888.0 636.9 L890.0 635.9 L892.0 635.0 L894.0 633.9 L896.0 632.9 L898.0 631.9 L900.0 630.9 L902.0 629.8 L904.0 628.7 L906.0 627.6 L908.0 626.5 L910.0 625.4 L912.0 624.3 L914.0 623.1 L916.0 622.0 L918.0 620.8 L920.0 619.6 L922.0 618.3 L924.0 617.1 L926.0 615.8 L928.0 614.5 L930.0 613.2 L932.0 611.9 L934.0 610.6 L936.0 609.2 L938.0 607.9 L940.0 606.5 L942.0 605.1 L944.0 603.7 L946.0 602.2 L948.0 600.8 L950.0 599.3 L952.0 597.9 L954.0 596.4 L956.0 594.9 L958.0 593.4 L960.0 591.9 L962.0 590.4 L964.0 588.9 L966.0 587.4 L968.0 585.9 L970.0 584.3 L972.0 582.8 L974.0 581.2 L976.0 579.6 L978.0 578.0 L980.0 576.4 L982.0 574.8 L984.0 573.2 L986.0 571.6 L988.0 569.9 L990.0 568.3 L992.0 566.6 L994.0 564.9 L996.0 563.2 L998.0 561.5 L1000.0 559.8 L1002.0 558.0 L1004.0 556.3 L1006.0 554.5 L1008.0 552.7 L1010.0 550.9 L1012.0 549.1 L1014.0 547.2 L1016.0 545.4 L1018.0 543.5 L1020.0 541.6 L1022.0 539.7 L1024.0 537.8 L1026.0 535.8 L1028.0 533.8 L1030.0 531.9 L1032.0 529.8 L1034.0 527.8 L1036.0 525.8 L1038.0 523.7 L1040.0 521.6 L1042.0 519.5 L1044.0 517.3 L1046.0 515.2 L1048.0 513.0 L1050.0 510.8 L1052.0 508.6 L1054.0 506.4 L1056.0 504.1 L1058.0 501.9 L1060.0 499.6 L1062.0 497.3 L1064.0 495.0 L1066.0 492.6 L1068.0 490.3 L1070.0 487.9 L1072.0 485.5 L1074.0 483.1 L1076.0 480.7 L1078.0 478.2 L1080.0 475.8 L1082.0 473.3 L1084.0 470.8 L1086.0 468.3 L1088.0 465.8 L1090.0 463.3 L1092.0 460.7 L1094.0 458.2 L1096.0 455.6 L1098.0 453.1 L1100.0 450.5 L1102.0 447.9 L1104.0 445.3 L1106.0 442.7 L1108.0 440.1 L1110.0 437.5 L1112.0 434.8 L1114.0 432.2 L1116.0 429.6 L1118.0 427.0 L1120.0 424.3 L1122.0 421.7 L1124.0 419.1 L1126.0 416.4 L1128.0 413.8 L1130.0 411.1 L1132.0 408.5 L1134.0 405.8 L1136.0 403.2 L1138.0 400.5 L1140.0 397.8 L1142.0 395.2 L1144.0 392.5 L1146.0 389.8 L1148.0 387.1 L1150.0 384.4 L1152.0 381.7 L1154.0 379.0 L1156.0 376.3 L1158.0 373.5 L1160.0 370.8 L1162.0 368.1 L1164.0 365.3 L1166.0 362.6 L1168.0 359.8 L1168.7 358.8" stroke="#999999"/>
</g>
<g><line x1="346.6" y1="792.2" x2="376.7" y2="792.2" stroke="#DBA236" stroke-width="4.8"/><circle cx="361.7" cy="792.2" r="5.25" fill="#DBA236"/><line x1="684.9" y1="792.2" x2="715.4" y2="792.2" stroke="#2F70AF" stroke-width="4.8"/><path d="M700.2 785.3L706.6 796.1L693.8 796.1Z" fill="#2F70AF"/><line x1="863.8" y1="792.2" x2="893.4" y2="792.2" stroke="#999999" stroke-width="4.8"/><rect x="873.3" y="786.9" width="10.6" height="10.6" fill="#999999"/></g>
<g><text transform="translate(222.5,666.9) scale(1,1.06)" text-anchor="end" font-size="22" fill="#000">0%</text><text transform="translate(222.5,474.4) scale(1,1.06)" text-anchor="end" font-size="22" fill="#000">10%</text><text transform="translate(222.5,282.0) scale(1,1.06)" text-anchor="end" font-size="22" fill="#000">20%</text><text transform="translate(222.5,89.5) scale(1,1.06)" text-anchor="end" font-size="22" fill="#000">30%</text><text transform="translate(234.3,711.8) scale(1,1.06)" text-anchor="middle" font-size="22" fill="#000">1890</text><text transform="translate(464.3,711.8) scale(1,1.06)" text-anchor="middle" font-size="22" fill="#000">1920</text><text transform="translate(694.3,711.8) scale(1,1.06)" text-anchor="middle" font-size="22" fill="#000">1950</text><text transform="translate(924.3,711.8) scale(1,1.06)" text-anchor="middle" font-size="22" fill="#000">1980</text><text transform="translate(1154.2,711.8) scale(1,1.06)" text-anchor="middle" font-size="22" fill="#000">2010</text><text transform="translate(168.3,628.3) rotate(-90)" font-size="26.6" fill="#000" textLength="483" lengthAdjust="spacingAndGlyphs">Articles mentioning 'Nuance' or 'Nuanced'</text><text x="245.6" y="801.9" font-size="26.8" fill="#000">Journal</text><text x="384.3" y="800.6" font-size="21.7" fill="#000">American Sociological Review</text><text x="722.8" y="800.6" font-size="21.7" fill="#000">Social Forces</text><text x="902.0" y="800.6" font-size="21.8" fill="#000">American Journal of Sociology</text><text x="1217.5" y="840.3" text-anchor="end" font-size="17.5" fill="#7a7a7a" stroke="#7a7a7a" stroke-width="0.25">Data: JSTOR.</text></g>
<text y="937.4" font-size="28.4" fill="#000"><tspan x="42.6" font-weight="bold" textLength="90" lengthAdjust="spacingAndGlyphs">Figure</tspan><tspan x="143.5" font-weight="bold" textLength="23" lengthAdjust="spacingAndGlyphs">1.</tspan><tspan x="181.4" font-style="italic" font-size="27.6" textLength="88" lengthAdjust="spacingAndGlyphs" stroke="#000" stroke-width="0.35">Nuance</tspan><tspan x="277.4" font-size="28" textLength="326.5" lengthAdjust="spacingAndGlyphs" stroke="#000" stroke-width="0.35">in three sociology journals.</tspan></text>
</svg>
</body></html>
